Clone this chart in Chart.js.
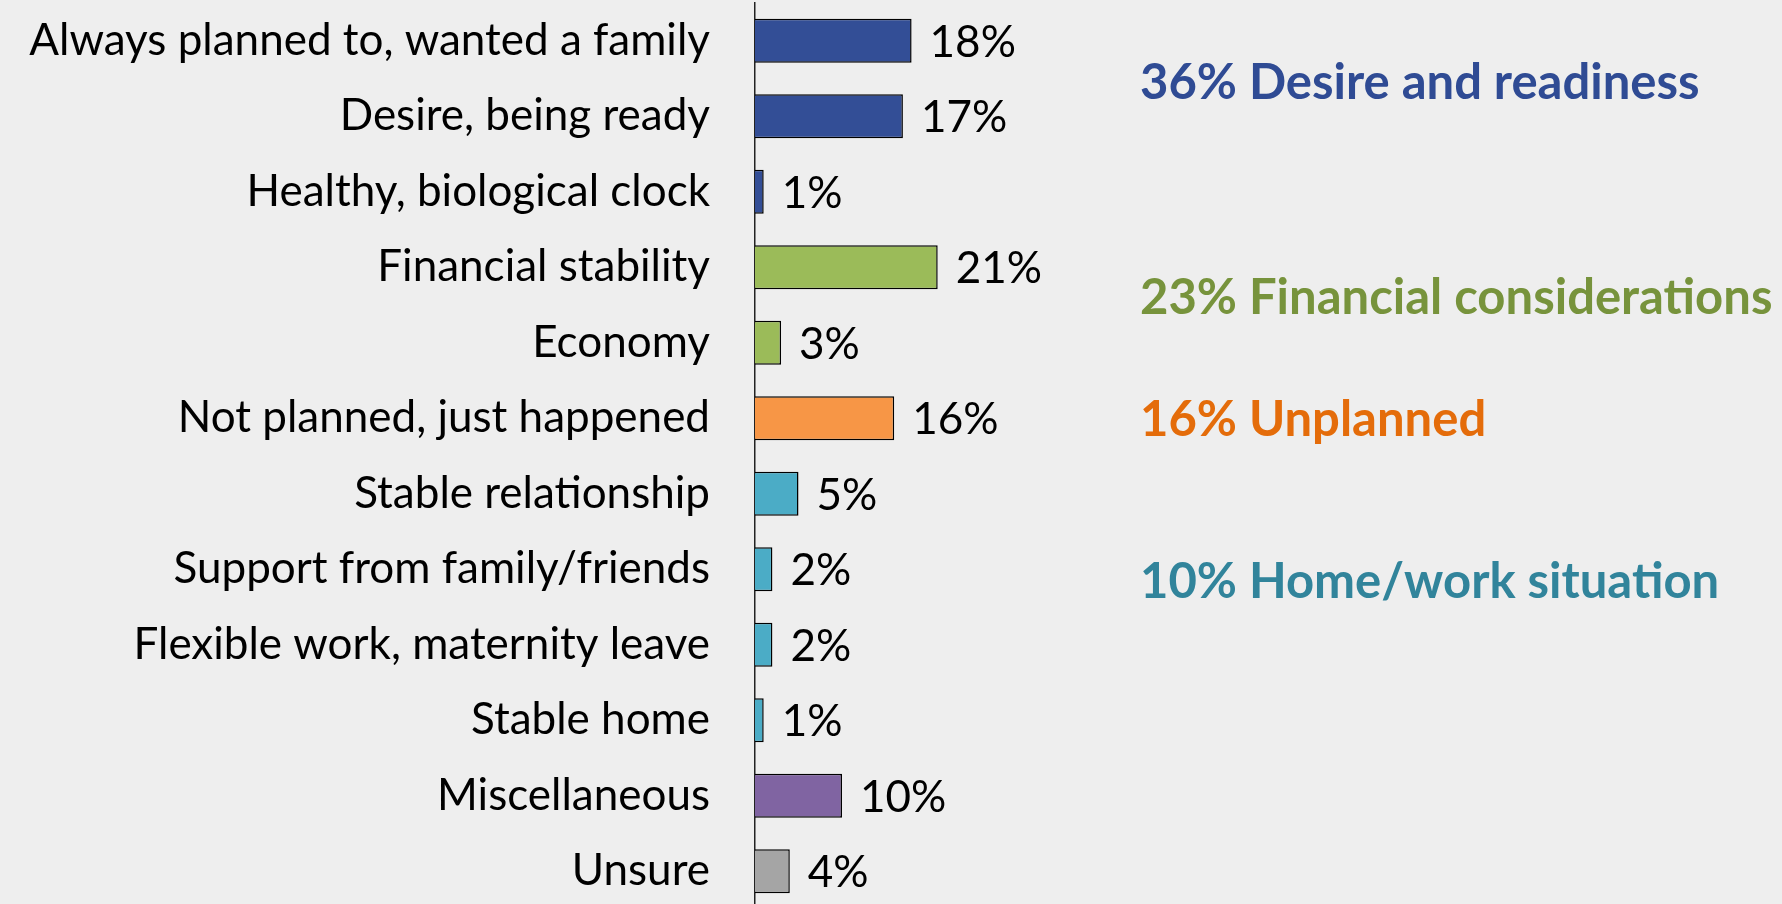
<!DOCTYPE html>
<html>
<head>
<meta charset="utf-8">
<script src="https://cdn.jsdelivr.net/npm/chart.js@4"></script>
<style>
  html, body { margin: 0; padding: 0; background: #eeeeee; overflow: hidden; }
  #wrap { width: 1782px; height: 912px; }
</style>
</head>
<body>
<div id="wrap"><canvas id="reasonsChart" width="1782" height="912"></canvas></div>
<script>
const categories = [
  'Always planned to, wanted a family',
  'Desire, being ready',
  'Healthy, biological clock',
  'Financial stability',
  'Economy',
  'Not planned, just happened',
  'Stable relationship',
  'Support from family/friends',
  'Flexible work, maternity leave',
  'Stable home',
  'Miscellaneous',
  'Unsure'
];
const values = [18, 17, 1, 21, 3, 16, 5, 2, 2, 1, 10, 4];
const groups = ['desire', 'desire', 'desire', 'financial', 'financial', 'unplanned',
  'homework', 'homework', 'homework', 'homework', 'misc', 'unsure'];

const groupNames = ['desire', 'financial', 'unplanned', 'homework'];
const groupTotals = [36, 23, 16, 10];
const groupTitles = ['Desire and readiness', 'Financial considerations', 'Unplanned', 'Home/work situation'];

const barColors = {
  desire: '#334e96',
  financial: '#9bbb59',
  unplanned: '#f79646',
  homework: '#4bacc6',
  misc: '#8064a2',
  unsure: '#a5a5a5'
};
const textColors = {
  desire: '#2f4b94',
  financial: '#77933c',
  unplanned: '#e46c0a',
  homework: '#31849b'
};
// where each group caption sits, in category units on the y scale
const captionRows = [0.56, 3.41, 5.02, 7.17];

const labelFont = '44px Lato';
const captionFont = 'bold 49px Lato';

const valueLabels = {
  id: 'valueLabels',
  afterDatasetsDraw(chart) {
    const ctx = chart.ctx;
    const meta = chart.getDatasetMeta(0);
    ctx.save();
    ctx.font = labelFont;
    ctx.fillStyle = '#000';
    ctx.textAlign = 'left';
    ctx.textBaseline = 'middle';
    meta.data.forEach((bar, i) => {
      ctx.fillText(values[i] + '%', bar.x + 18, bar.y + 2);
    });
    ctx.restore();
  }
};

const groupCaptions = {
  id: 'groupCaptions',
  afterDraw(chart) {
    const ctx = chart.ctx;
    const yScale = chart.scales.y;
    ctx.save();
    ctx.font = captionFont;
    ctx.textAlign = 'left';
    ctx.textBaseline = 'middle';
    groupNames.forEach((g, i) => {
      ctx.fillStyle = textColors[g];
      ctx.fillText(groupTotals[i] + '% ' + groupTitles[i], 1140, yScale.getPixelForValue(captionRows[i]));
    });
    ctx.restore();
  }
};

const ctx = document.getElementById('reasonsChart').getContext('2d');
const reasonsChart = new Chart(ctx, {
  type: 'bar',
  data: {
    labels: categories,
    datasets: [{
      data: values,
      backgroundColor: groups.map(g => barColors[g]),
      borderColor: '#000',
      borderWidth: 1.5,
      borderSkipped: 'start',
      barPercentage: 0.58,
      categoryPercentage: 1
    }]
  },
  options: {
    indexAxis: 'y',
    responsive: false,
    animation: false,
    layout: {
      padding: { top: 3, bottom: 3, left: 0, right: 766 }
    },
    plugins: {
      legend: { display: false },
      tooltip: { enabled: false }
    },
    scales: {
      x: {
        display: false,
        min: 0,
        max: 30
      },
      y: {
        afterFit(scale) {
          scale.width = 755;
          scale.paddingTop = 0;
          scale.paddingBottom = 0;
        },
        grid: { display: false, drawTicks: false },
        border: { display: true, color: '#222', width: 1.5 },
        ticks: {
          color: '#000',
          font: { family: 'Lato', size: 44 },
          padding: 45,
          autoSkip: false
        }
      }
    }
  },
  plugins: [valueLabels, groupCaptions]
});
</script>
</body>
</html>
